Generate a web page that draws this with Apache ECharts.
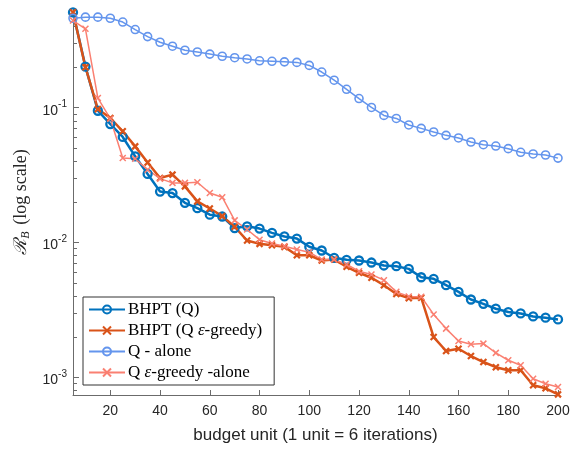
<!DOCTYPE html>
<html>
<head>
<meta charset="utf-8">
<script src="https://cdn.jsdelivr.net/npm/echarts@6/dist/echarts.min.js"></script>
<style>
  html, body { margin: 0; padding: 0; background: #fff; }
  #chart { width: 574px; height: 455px; }
</style>
</head>
<body>
<div id="chart"></div>
<script>
// budget units 5..200 step 5
var budget = [5,10,15,20,25,30,35,40,45,50,55,60,65,70,75,80,85,90,95,100,
  105,110,115,120,125,130,135,140,145,150,155,160,165,170,175,180,185,190,195,200];

var bhptQ = [0.51,0.202,0.095,0.0757,0.0607,0.0436,0.0323,0.0239,0.0233,0.0197,
  0.0180,0.0161,0.0156,0.0128,0.0132,0.0127,0.0118,0.0111,0.0107,0.0093,
  0.00873,0.00771,0.00745,0.00736,0.00711,0.00676,0.00668,0.00638,0.00553,0.00538,
  0.00483,0.00431,0.00378,0.00351,0.00323,0.00305,0.00298,0.00283,0.00277,0.00269];

var bhptQGreedy = [0.51,0.20,0.0977,0.0839,0.0669,0.0517,0.0393,0.0301,0.0319,0.0261,
  0.0202,0.0179,0.0157,0.0131,0.01035,0.00978,0.00955,0.00929,0.00805,0.00805,
  0.00736,0.00748,0.00661,0.00597,0.00548,0.00483,0.00415,0.00387,0.0039,0.00199,
  0.00157,0.00163,0.00144,0.00130,0.00119,0.00113,0.00113,0.000873,0.00083,0.000748];

var qAlone = [0.461,0.470,0.470,0.461,0.432,0.380,0.337,0.306,0.286,0.267,
  0.259,0.250,0.241,0.235,0.230,0.223,0.221,0.219,0.217,0.206,
  0.184,0.160,0.137,0.117,0.1005,0.0877,0.0833,0.0745,0.0703,0.0661,
  0.0624,0.0597,0.0557,0.0532,0.0520,0.0497,0.0467,0.0454,0.0446,0.0423];

var qGreedyAlone = [0.443,0.385,0.118,0.0829,0.0424,0.0419,0.0347,0.0298,0.0277,0.0277,
  0.0280,0.0233,0.0217,0.0146,0.0125,0.0105,0.00983,0.0094,0.00888,0.00848,
  0.00748,0.00748,0.00687,0.00613,0.00579,0.00526,0.00431,0.00398,0.00396,0.00293,
  0.0023,0.00186,0.00176,0.00178,0.00152,0.00134,0.00123,0.000977,0.000897,0.000848];

var xTicks = [20,40,60,80,100,120,140,160,180,200];
var yMajor = [0.001, 0.01, 0.1];
var yMinor = [];
[-4,-3,-2,-1].forEach(function (e) {
  for (var m = 2; m <= 9; m++) {
    var v = +(m * Math.pow(10, e)).toPrecision(3);
    if (v > 0.00074 && v < 0.54) yMinor.push(v);
  }
});

var axisColor = '#6b6b6b';
var textColor = '#262626';
var crossPath = 'path://M0,0L10,10M10,0L0,10';
var hollow = 'rgba(255,255,255,0)';

function pairs(ys) {
  return budget.map(function (x, i) { return [x, ys[i]]; });
}

var chart = echarts.init(document.getElementById('chart'));
chart.setOption({
  animation: false,
  backgroundColor: '#fff',
  grid: { left: 73, right: 16, top: 9, bottom: 60 },
  legend: {
    orient: 'vertical',
    left: 83,
    top: 297,
    width: 195,
    padding: [4, 12, 4, 5],
    itemGap: 4,
    itemWidth: 36,
    itemHeight: 10,
    borderColor: '#333',
    borderWidth: 1,
    backgroundColor: '#fff',
    textStyle: {
      fontFamily: 'Liberation Serif',
      fontSize: 17,
      color: '#000',
      padding: [0, 0, 0, -2],
      rich: {
        e: { fontFamily: 'Liberation Serif', fontStyle: 'italic', fontSize: 17, color: '#000' }
      }
    },
    formatter: function (name) {
      return name.replace('ε', '{e|ε}');
    },
    data: ['BHPT (Q)', 'BHPT (Q ε-greedy)', 'Q - alone', 'Q ε-greedy -alone']
  },
  xAxis: {
    type: 'value',
    min: 5,
    max: 200,
    name: 'budget unit (1 unit = 6 iterations)',
    nameLocation: 'middle',
    nameGap: 32,
    nameTextStyle: { fontFamily: 'Liberation Sans', fontSize: 17, color: textColor },
    axisLine: { lineStyle: { color: axisColor, width: 1 } },
    axisTick: { inside: true, length: 5, customValues: xTicks, lineStyle: { color: axisColor } },
    axisLabel: {
      customValues: xTicks,
      fontFamily: 'Liberation Sans', fontSize: 14, color: textColor, margin: 9
    },
    splitLine: { show: false }
  },
  yAxis: [{
    type: 'log',
    logBase: 10,
    min: 0.00074,
    max: 0.54,
    name: '{r|ℛ}{sub|B} (log scale)',
    nameLocation: 'middle',
    nameGap: 40,
    nameRotate: 90,
    nameTextStyle: {
      fontFamily: 'Liberation Serif', fontSize: 18, color: textColor,
      rich: {
        r: { fontFamily: 'DejaVu Serif', fontStyle: 'italic', fontSize: 18, color: textColor },
        sub: { fontFamily: 'Liberation Serif', fontStyle: 'italic', fontSize: 12, color: textColor, padding: [8, 2, 0, 0] }
      }
    },
    axisLine: { show: true, lineStyle: { color: axisColor, width: 1 } },
    axisTick: { show: true, inside: true, length: 6, customValues: yMajor, lineStyle: { color: axisColor } },
    axisLabel: {
      customValues: yMajor,
      margin: 6,
      formatter: function (v) {
        return '{b|10}{s|' + Math.round(Math.log10(v)) + '}';
      },
      rich: {
        b: { fontFamily: 'Liberation Sans', fontSize: 14, color: textColor, padding: [6, 0, 0, 0] },
        s: { fontFamily: 'Liberation Sans', fontSize: 10, color: textColor, padding: [0, 0, 6, 0] }
      }
    },
    splitLine: { show: false }
  }, {
    type: 'log',
    logBase: 10,
    min: 0.00074,
    max: 0.54,
    position: 'left',
    axisLine: { show: false },
    axisTick: { show: true, inside: true, length: 4, customValues: yMinor, lineStyle: { color: axisColor } },
    axisLabel: { show: false },
    splitLine: { show: false }
  }],
  series: [{
    name: 'BHPT (Q)',
    type: 'line',
    data: pairs(bhptQ),
    lineStyle: { width: 2.5, color: '#0072BD' },
    symbol: 'circle',
    symbolSize: 8,
    itemStyle: { color: hollow, borderColor: '#0072BD', borderWidth: 2.3 }
  }, {
    name: 'BHPT (Q ε-greedy)',
    type: 'line',
    data: pairs(bhptQGreedy),
    lineStyle: { width: 2.5, color: '#D95319' },
    symbol: crossPath,
    symbolSize: 6,
    itemStyle: { color: '#D95319', borderColor: '#D95319', borderWidth: 2.2 }
  }, {
    name: 'Q - alone',
    type: 'line',
    data: pairs(qAlone),
    lineStyle: { width: 1.5, color: '#6495ED' },
    symbol: 'circle',
    symbolSize: 8,
    itemStyle: { color: hollow, borderColor: '#6495ED', borderWidth: 1.6 }
  }, {
    name: 'Q ε-greedy -alone',
    type: 'line',
    data: pairs(qGreedyAlone),
    lineStyle: { width: 1.5, color: '#FA8072' },
    symbol: crossPath,
    symbolSize: 6,
    itemStyle: { color: '#FA8072', borderColor: '#FA8072', borderWidth: 1.5 }
  }]
});
</script>
</body>
</html>
